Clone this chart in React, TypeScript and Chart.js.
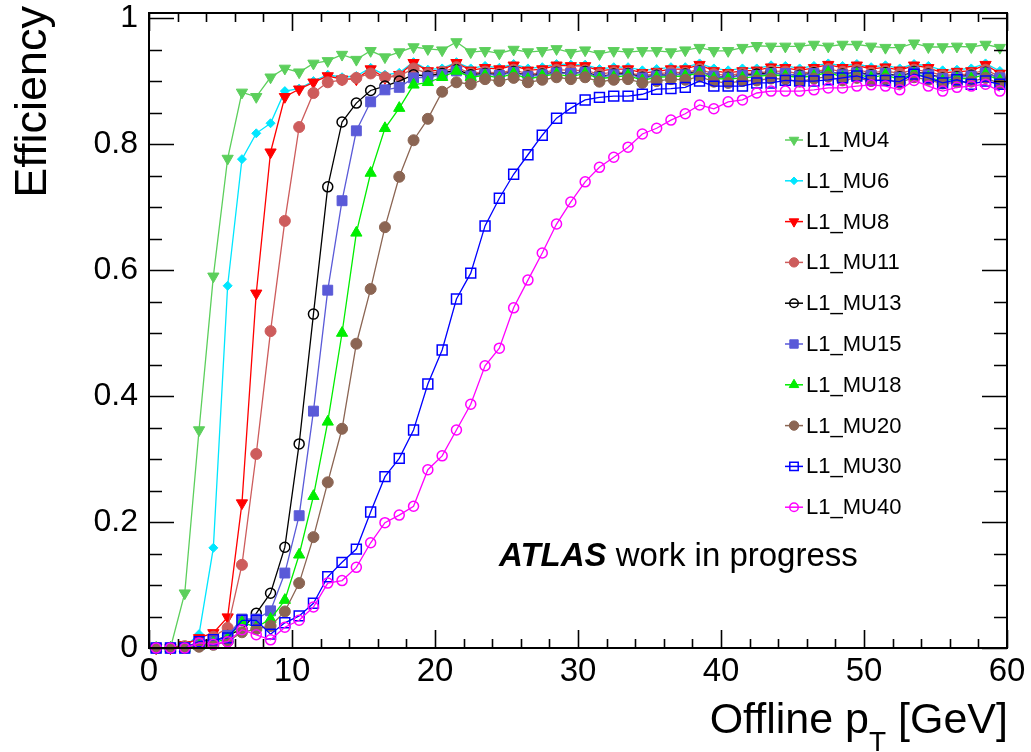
import React, { useEffect, useRef } from 'react';
import { Chart, registerables } from 'chart.js';
import { drawPoint } from 'chart.js/helpers';

Chart.register(...registerables);

const FONT = "'Liberation Sans', Arial, Helvetica, sans-serif";

// ---------------- data ----------------
const ptCenters = [
  0.5, 1.5, 2.5, 3.5, 4.5, 5.5, 6.5, 7.5, 8.5, 9.5,
  10.5, 11.5, 12.5, 13.5, 14.5, 15.5, 16.5, 17.5, 18.5, 19.5,
  20.5, 21.5, 22.5, 23.5, 24.5, 25.5, 26.5, 27.5, 28.5, 29.5,
  30.5, 31.5, 32.5, 33.5, 34.5, 35.5, 36.5, 37.5, 38.5, 39.5,
  40.5, 41.5, 42.5, 43.5, 44.5, 45.5, 46.5, 47.5, 48.5, 49.5,
  50.5, 51.5, 52.5, 53.5, 54.5, 55.5, 56.5, 57.5, 58.5, 59.5,
];

const triggerNames = ['L1_MU4', 'L1_MU6', 'L1_MU8', 'L1_MU11', 'L1_MU13', 'L1_MU15', 'L1_MU18', 'L1_MU20', 'L1_MU30', 'L1_MU40'];

const effMU4 = [
  0, 0, 0.087, 0.346, 0.59, 0.777, 0.882, 0.875, 0.906, 0.92,
  0.914, 0.928, 0.932, 0.942, 0.934, 0.948, 0.938, 0.946, 0.954, 0.951,
  0.949, 0.962, 0.946, 0.948, 0.944, 0.95, 0.946, 0.948, 0.951, 0.945,
  0.949, 0.943, 0.948, 0.946, 0.948, 0.948, 0.946, 0.949, 0.953, 0.948,
  0.948, 0.953, 0.956, 0.955, 0.955, 0.955, 0.958, 0.955, 0.958, 0.958,
  0.955, 0.953, 0.953, 0.96, 0.954, 0.954, 0.955, 0.954, 0.958, 0.953,
];
const effMU6 = [
  0, 0, 0.002, 0.022, 0.159, 0.575, 0.776, 0.817, 0.833, 0.884,
  0.888, 0.9, 0.91, 0.906, 0.908, 0.921, 0.91, 0.913, 0.93, 0.918,
  0.92, 0.93, 0.92, 0.924, 0.921, 0.927, 0.92, 0.922, 0.927, 0.926,
  0.926, 0.919, 0.922, 0.922, 0.917, 0.919, 0.922, 0.922, 0.928, 0.92,
  0.917, 0.92, 0.92, 0.925, 0.924, 0.92, 0.924, 0.928, 0.924, 0.927,
  0.922, 0.925, 0.92, 0.927, 0.924, 0.917, 0.918, 0.92, 0.928, 0.916,
];
const effMU8 = [
  0, 0, 0.005, 0.016, 0.024, 0.049, 0.23, 0.563, 0.787, 0.875,
  0.887, 0.898, 0.908, 0.903, 0.903, 0.919, 0.905, 0.91, 0.929, 0.916,
  0.917, 0.929, 0.917, 0.921, 0.919, 0.925, 0.917, 0.919, 0.925, 0.924,
  0.924, 0.916, 0.919, 0.919, 0.913, 0.915, 0.919, 0.919, 0.926, 0.916,
  0.913, 0.916, 0.917, 0.922, 0.921, 0.917, 0.921, 0.926, 0.921, 0.925,
  0.919, 0.922, 0.917, 0.925, 0.921, 0.913, 0.915, 0.916, 0.926, 0.912,
];
const effMU11 = [
  0, 0, 0.003, 0.008, 0.018, 0.032, 0.132, 0.308, 0.503, 0.678,
  0.827, 0.881, 0.898, 0.902, 0.905, 0.912, 0.906, 0.908, 0.92, 0.912,
  0.914, 0.922, 0.912, 0.915, 0.912, 0.918, 0.911, 0.913, 0.918, 0.917,
  0.917, 0.911, 0.914, 0.913, 0.909, 0.911, 0.914, 0.913, 0.919, 0.911,
  0.909, 0.912, 0.912, 0.916, 0.915, 0.912, 0.915, 0.919, 0.915, 0.918,
  0.913, 0.916, 0.912, 0.918, 0.915, 0.909, 0.91, 0.911, 0.918, 0.907,
];
const effMU13 = [
  0, 0, 0, 0.004, 0.01, 0.02, 0.03, 0.055, 0.087, 0.16,
  0.324, 0.53, 0.732, 0.835, 0.865, 0.885, 0.892, 0.9, 0.91, 0.908,
  0.912, 0.918, 0.91, 0.912, 0.91, 0.915, 0.908, 0.911, 0.914, 0.912,
  0.915, 0.907, 0.911, 0.912, 0.906, 0.909, 0.91, 0.911, 0.916, 0.907,
  0.906, 0.909, 0.911, 0.913, 0.911, 0.909, 0.913, 0.915, 0.911, 0.914,
  0.91, 0.913, 0.907, 0.915, 0.911, 0.905, 0.907, 0.909, 0.914, 0.904,
];
const effMU15 = [
  0, 0, 0, 0.005, 0.01, 0.02, 0.046, 0.046, 0.059, 0.119,
  0.21, 0.376, 0.568, 0.71, 0.821, 0.867, 0.886, 0.89, 0.905, 0.906,
  0.91, 0.916, 0.908, 0.911, 0.909, 0.914, 0.907, 0.91, 0.913, 0.912,
  0.914, 0.906, 0.91, 0.911, 0.905, 0.908, 0.911, 0.91, 0.915, 0.908,
  0.905, 0.909, 0.909, 0.912, 0.912, 0.908, 0.912, 0.916, 0.91, 0.913,
  0.909, 0.912, 0.906, 0.914, 0.91, 0.904, 0.906, 0.908, 0.913, 0.905,
];
const effMU18 = [
  0, 0, 0, 0.003, 0.008, 0.015, 0.041, 0.033, 0.046, 0.076,
  0.148, 0.241, 0.359, 0.5, 0.659, 0.754, 0.825, 0.857, 0.894, 0.898,
  0.906, 0.916, 0.906, 0.909, 0.905, 0.912, 0.903, 0.908, 0.911, 0.907,
  0.912, 0.904, 0.906, 0.909, 0.901, 0.906, 0.907, 0.908, 0.913, 0.904,
  0.903, 0.905, 0.907, 0.91, 0.908, 0.906, 0.908, 0.914, 0.906, 0.911,
  0.905, 0.91, 0.902, 0.912, 0.906, 0.9, 0.904, 0.904, 0.911, 0.901,
];
const effMU20 = [
  0, 0, 0, 0.002, 0.005, 0.01, 0.025, 0.03, 0.035, 0.058,
  0.103, 0.176, 0.263, 0.348, 0.483, 0.57, 0.668, 0.748, 0.806, 0.84,
  0.883, 0.898, 0.895, 0.903, 0.9, 0.905, 0.898, 0.902, 0.906, 0.903,
  0.906, 0.899, 0.902, 0.903, 0.897, 0.9, 0.903, 0.902, 0.907, 0.899,
  0.897, 0.9, 0.901, 0.904, 0.903, 0.899, 0.904, 0.907, 0.901, 0.905,
  0.9, 0.903, 0.897, 0.906, 0.902, 0.896, 0.898, 0.899, 0.905, 0.896,
];
const effMU30 = [
  0, 0, 0, 0.01, 0.013, 0.016, 0.044, 0.044, 0.022, 0.04,
  0.051, 0.071, 0.113, 0.136, 0.157, 0.216, 0.272, 0.301, 0.346, 0.419,
  0.473, 0.554, 0.595, 0.67, 0.714, 0.752, 0.783, 0.814, 0.841, 0.857,
  0.87, 0.874, 0.876, 0.876, 0.879, 0.887, 0.888, 0.89, 0.9, 0.892,
  0.892, 0.892, 0.897, 0.897, 0.901, 0.9, 0.9, 0.902, 0.905, 0.908,
  0.901, 0.901, 0.899, 0.911, 0.905, 0.897, 0.902, 0.895, 0.9, 0.895,
];
const effMU40 = [
  0, 0, 0, 0.008, 0.006, 0.01, 0.029, 0.021, 0.013, 0.033,
  0.044, 0.065, 0.103, 0.107, 0.128, 0.167, 0.199, 0.211, 0.225, 0.283,
  0.305, 0.346, 0.387, 0.448, 0.476, 0.54, 0.584, 0.627, 0.673, 0.708,
  0.74, 0.763, 0.779, 0.795, 0.816, 0.825, 0.838, 0.848, 0.862, 0.856,
  0.867, 0.87, 0.881, 0.884, 0.884, 0.884, 0.886, 0.889, 0.889, 0.892,
  0.894, 0.892, 0.886, 0.901, 0.892, 0.884, 0.89, 0.892, 0.895, 0.884,
];

const effSeries = [effMU4, effMU6, effMU8, effMU11, effMU13, effMU15, effMU18, effMU20, effMU30, effMU40];

const xTicks = [0, 10, 20, 30, 40, 50, 60];
const xTickLabels = ['0', '10', '20', '30', '40', '50', '60'];
const xMinorTicks = [0, 2, 4, 6, 8, 10, 12, 14, 16, 18, 20, 22, 24, 26, 28, 30, 32, 34, 36, 38, 40, 42, 44, 46, 48, 50, 52, 54, 56, 58, 60];
const yTicks = [0, 0.2, 0.4, 0.6, 0.8, 1];
const yTickLabels = ['0', '0.2', '0.4', '0.6', '0.8', '1'];
const yMinorTicks = [0, 0.05, 0.1, 0.15, 0.2, 0.25, 0.3, 0.35, 0.4, 0.45, 0.5, 0.55, 0.6, 0.65, 0.7, 0.75, 0.8, 0.85, 0.9, 0.95, 1];

// ---------------- styles ----------------
const seriesStyles = [
  { color: '#5ccf5c', pointStyle: 'triangle', rotation: 180, radius: 6.5, filled: true },
  { color: '#00e6ff', pointStyle: 'rectRot', rotation: 0, radius: 4.5, filled: true },
  { color: '#ff0000', pointStyle: 'triangle', rotation: 180, radius: 6.5, filled: true },
  { color: '#cd5c5c', pointStyle: 'circle', rotation: 0, radius: 5.5, filled: true },
  { color: '#000000', pointStyle: 'circle', rotation: 0, radius: 5, filled: false },
  { color: '#5a5ad8', pointStyle: 'rect', rotation: 0, radius: 7, filled: true },
  { color: '#00ee00', pointStyle: 'triangle', rotation: 0, radius: 6.5, filled: true },
  { color: '#8b6553', pointStyle: 'circle', rotation: 0, radius: 5.5, filled: true },
  { color: '#0000ff', pointStyle: 'rect', rotation: 0, radius: 7, filled: false },
  { color: '#ff00ff', pointStyle: 'circle', rotation: 0, radius: 5, filled: false },
];

const decorations = {
  id: 'rootDecorations',
  afterDatasetsDraw(chart: any) {
    const { ctx, chartArea: a, scales } = chart;
    const xs = scales.x;
    const ys = scales.y;
    ctx.save();
    // frame
    ctx.strokeStyle = '#000';
    ctx.lineWidth = 2;
    ctx.strokeRect(a.left, a.top, a.right - a.left, a.bottom - a.top);
    // ticks
    ctx.lineWidth = 1.6;
    ctx.beginPath();
    for (const v of xMinorTicks) {
      const px = Math.round(xs.getPixelForValue(v)) + 0.5;
      const L = xTicks.includes(v) ? 18 : 9;
      ctx.moveTo(px, a.bottom);
      ctx.lineTo(px, a.bottom - L);
      ctx.moveTo(px, a.top);
      ctx.lineTo(px, a.top + L);
    }
    for (const v of yMinorTicks) {
      const py = Math.round(ys.getPixelForValue(v)) + 0.5;
      const major = yTicks.some((t) => Math.abs(t - v) < 1e-9);
      const L = major ? 25 : 13;
      ctx.moveTo(a.left, py);
      ctx.lineTo(a.left + L, py);
      ctx.moveTo(a.right, py);
      ctx.lineTo(a.right - L, py);
    }
    ctx.stroke();

    // legend
    const legX = 794;
    const legY0 = 140;
    const legDy = 40.8;
    ctx.font = `22px ${FONT}`;
    ctx.textBaseline = 'middle';
    ctx.textAlign = 'left';
    triggerNames.forEach((name, i) => {
      const st = seriesStyles[i];
      const y = legY0 + i * legDy;
      ctx.strokeStyle = st.color;
      ctx.lineWidth = 1.5;
      ctx.beginPath();
      ctx.moveTo(legX - 9, y);
      ctx.lineTo(legX + 9, y);
      ctx.stroke();
      ctx.fillStyle = st.filled ? st.color : 'rgba(0,0,0,0)';
      ctx.lineWidth = st.filled ? 1 : 1.5;
      drawPoint(ctx, { pointStyle: st.pointStyle, rotation: st.rotation, radius: st.radius * 0.85, borderWidth: ctx.lineWidth } as any, legX, y);
      ctx.fillStyle = '#000';
      ctx.fillText(name, legX + 12, y + 1);
    });

    // ATLAS label
    ctx.textBaseline = 'alphabetic';
    ctx.fillStyle = '#000';
    ctx.font = `italic bold 33px ${FONT}`;
    ctx.fillText('ATLAS', 499, 566);
    const wAtlas = ctx.measureText('ATLAS ').width;
    ctx.font = `33px ${FONT}`;
    ctx.fillText('work in progress', 499 + wAtlas, 566);

    // x-axis title: Offline p_T [GeV]
    const mainFont = `43px ${FONT}`;
    const subFont = `28px ${FONT}`;
    ctx.font = mainFont;
    const w1 = ctx.measureText('Offline p').width;
    const w3 = ctx.measureText(' [GeV]').width;
    ctx.font = subFont;
    const w2 = ctx.measureText('T').width;
    const xEnd = 1008;
    const x0 = xEnd - (w1 + w2 + w3);
    ctx.font = mainFont;
    ctx.fillText('Offline p', x0, 733);
    ctx.font = subFont;
    ctx.fillText('T', x0 + w1, 751);
    ctx.font = mainFont;
    ctx.fillText(' [GeV]', x0 + w1 + w2, 733);

    // y-axis title
    ctx.save();
    ctx.translate(46, 6);
    ctx.rotate(-Math.PI / 2);
    ctx.font = `45px ${FONT}`;
    ctx.textAlign = 'right';
    ctx.textBaseline = 'alphabetic';
    ctx.fillText('Efficiency', 0, 0);
    ctx.restore();

    ctx.restore();
  },
};

export default function App() {
  const ref = useRef<HTMLCanvasElement>(null);
  useEffect(() => {
    const canvas = ref.current;
    if (!canvas) return;
    const datasets = triggerNames.map((name, i) => {
      const st = seriesStyles[i];
      return {
        label: name,
        data: ptCenters.map((x, j) => ({ x, y: effSeries[i][j] })),
        borderColor: st.color,
        backgroundColor: st.filled ? st.color : 'rgba(0,0,0,0)',
        borderWidth: 1.3,
        pointStyle: st.pointStyle,
        pointRotation: st.rotation,
        pointRadius: st.radius,
        pointBorderWidth: st.filled ? 1 : 1.5,
        pointBorderColor: st.color,
        pointBackgroundColor: st.filled ? st.color : 'rgba(0,0,0,0)',
        tension: 0,
        clip: false,
        order: 10 - i,
      };
    });
    const chart = new Chart(canvas, {
      type: 'line',
      data: { datasets } as any,
      options: {
        animation: false,
        responsive: false,
        events: [],
        layout: { padding: { top: 13, right: 24, left: 0, bottom: 0 } },
        plugins: { legend: { display: false }, tooltip: { enabled: false } },
        scales: {
          x: {
            type: 'linear',
            min: 0,
            max: 60,
            grid: { display: false, drawTicks: false },
            border: { display: false },
            afterBuildTicks: (s: any) => {
              s.ticks = xTicks.map((v) => ({ value: v }));
            },
            afterFit: (s: any) => {
              s.height = 104;
              s.paddingLeft = 0;
              s.paddingRight = 0;
            },
            ticks: {
              color: '#000',
              font: { family: FONT, size: 33 },
              padding: 4,
              maxRotation: 0,
              autoSkip: false,
              callback: (_v: any, i: number) => xTickLabels[i],
            },
          },
          y: {
            type: 'linear',
            min: 0,
            max: 1.008,
            grid: { display: false, drawTicks: false },
            border: { display: false },
            afterBuildTicks: (s: any) => {
              s.ticks = yTicks.map((v) => ({ value: v }));
            },
            afterFit: (s: any) => {
              s.width = 149;
              s.paddingTop = 0;
              s.paddingBottom = 0;
            },
            ticks: {
              color: '#000',
              font: { family: FONT, size: 32 },
              padding: 11,
              autoSkip: false,
              callback: (_v: any, i: number) => yTickLabels[i],
            },
          },
        },
      } as any,
      plugins: [decorations],
    });
    return () => chart.destroy();
  }, []);
  return (
    <canvas
      ref={ref}
      width={1031}
      height={752}
      style={{ position: 'fixed', left: 0, top: 0, width: 1031, height: 752, background: '#fff' }}
    />
  );
}
